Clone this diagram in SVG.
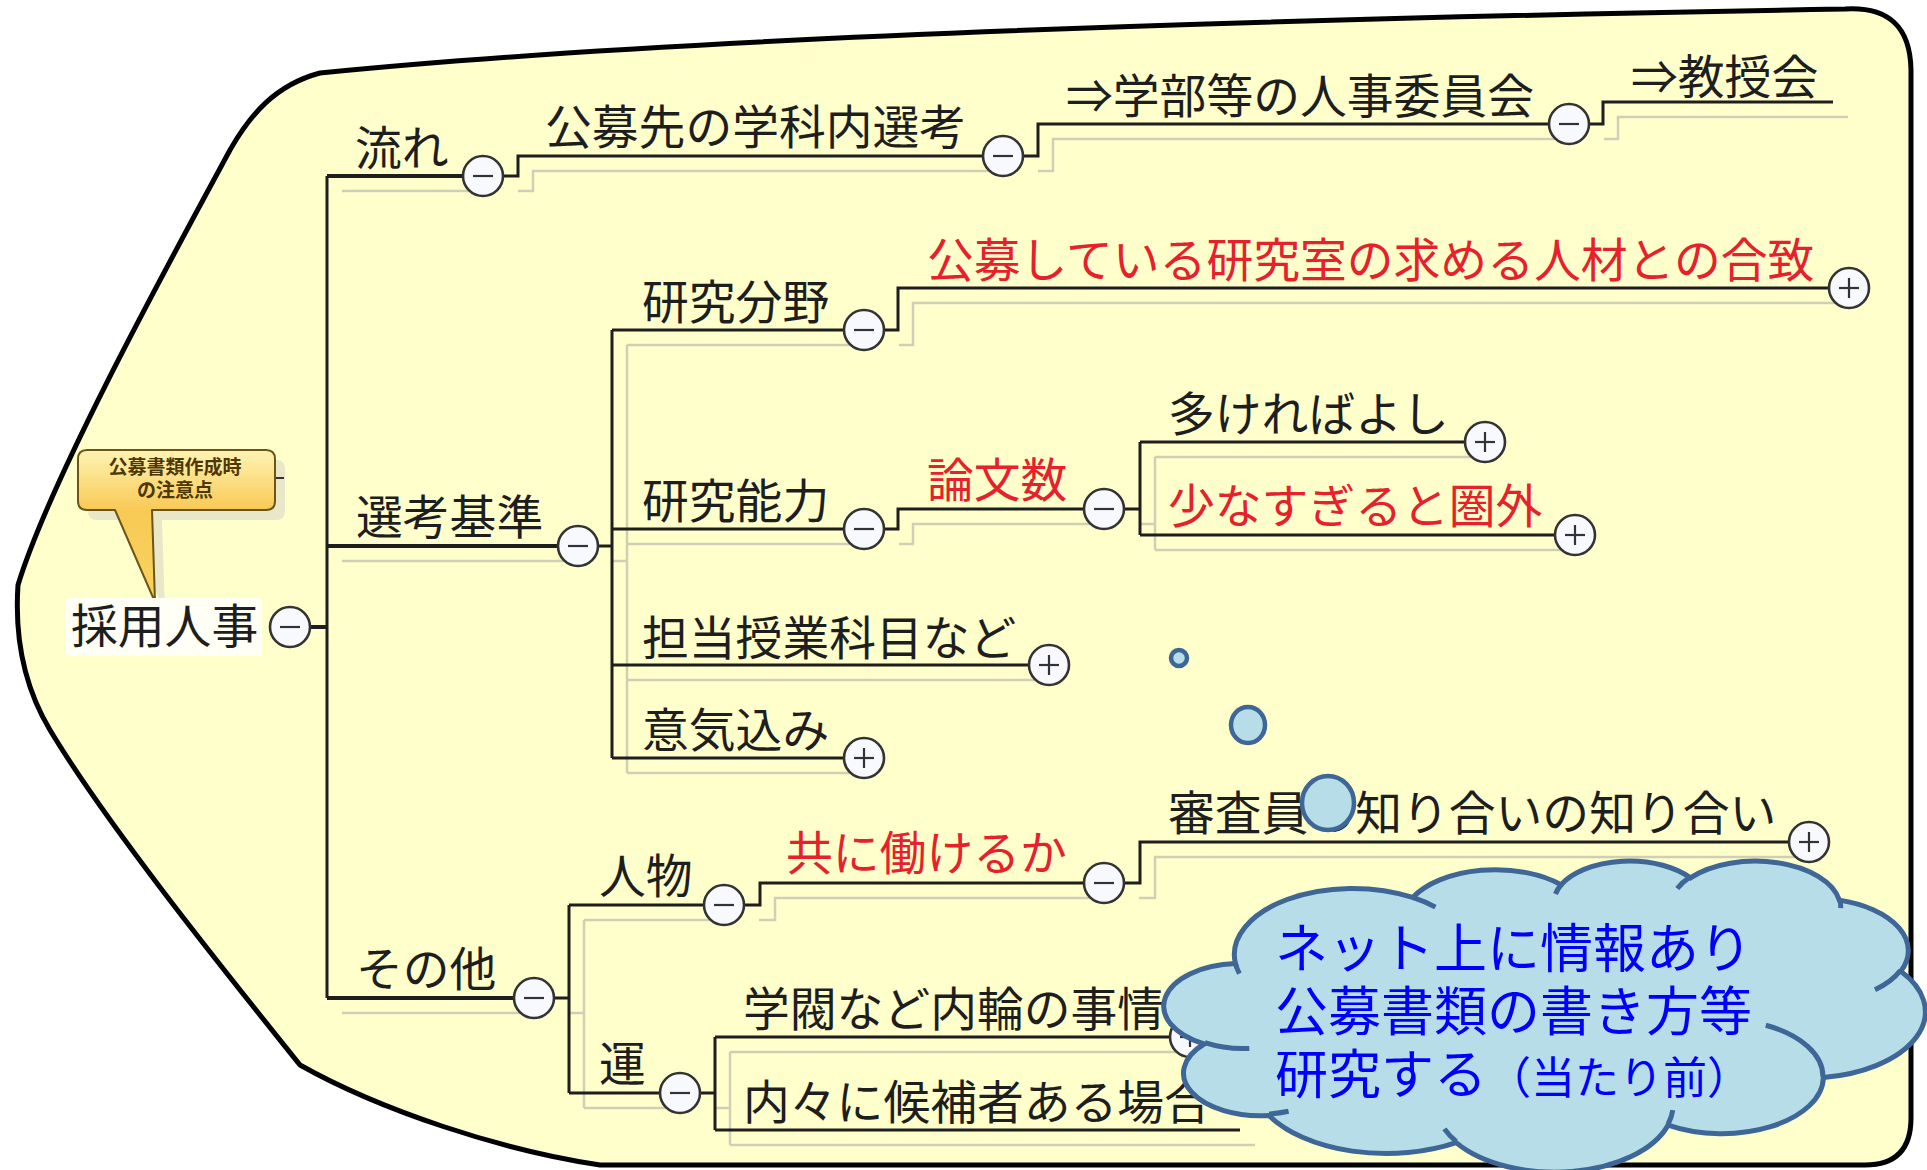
<svg xmlns="http://www.w3.org/2000/svg" width="1927" height="1170" viewBox="0 0 1927 1170">
<defs>
<style>
.t{font-family:"Noto Sans CJK JP","Noto Sans",sans-serif;font-size:46.8px;fill:#1e1e1e}
.r{fill:#e6212b}
.ln{fill:none;stroke:#1e1e1e;stroke-width:3;stroke-linejoin:miter}
.l1{stroke-width:4}
.sh{fill:none;stroke:#cfcfb6;stroke-width:2.5}
.btn{fill:#f8f8ff;stroke:#333;stroke-width:2.6}
.sg{stroke:#333;stroke-width:2.2}
.ct{font-family:"Liberation Sans","Noto Sans CJK JP",sans-serif;fill:#0000ff}
.bub{fill:#b7dde8;stroke:#3e6696;stroke-width:4.5}
</style>
<linearGradient id="cg" x1="0" y1="450" x2="0" y2="600" gradientUnits="userSpaceOnUse">
<stop offset="0" stop-color="#fff4b4"/>
<stop offset="0.4" stop-color="#f8c955"/>
<stop offset="1" stop-color="#f7d35e"/>
</linearGradient>
<g id="minus"><circle class="btn" cx="0" cy="0" r="20"/><line class="sg" x1="-10" y1="0" x2="10" y2="0"/></g>
<g id="plus"><circle class="btn" cx="0" cy="0" r="20"/><line class="sg" x1="-10" y1="0" x2="10" y2="0"/><line class="sg" x1="0" y1="-10" x2="0" y2="10"/></g>
</defs>

<path id="frame" d="M 320,73 C 500,55 900,25 1845,9 Q 1910,5 1911,70 L 1911,1118 Q 1911,1165 1865,1165 L 600,1165 C 500,1150 380,1110 300,1065 C 240,990 110,830 50,730 C 20,680 15,630 18,585 C 50,480 165,270 230,150 C 250,115 275,85 320,73 Z" fill="#ffffcc" stroke="#000" stroke-width="5" stroke-linejoin="round"/>

<g id="callout">
<path d="M 97,460 H 276 Q 285,460 285,469 V 511 Q 285,520 276,520 H 162 L 165,612 L 125,520 H 97 Q 88,520 88,511 V 469 Q 88,460 97,460 Z" fill="#deddc4" opacity="0.7"/>
<line x1="275" y1="478" x2="284" y2="478" stroke="#333" stroke-width="2"/>
<path d="M 87,450 H 266 Q 275,450 275,459 V 501 Q 275,510 266,510 H 152 L 155,602 L 115,510 H 87 Q 78,510 78,501 V 459 Q 78,450 87,450 Z" fill="url(#cg)" stroke="#6e5418" stroke-width="2" stroke-linejoin="round"/>
<text font-family="Liberation Sans, Noto Sans CJK JP, sans-serif" font-size="19" font-weight="bold" fill="#4d3800" text-anchor="middle"><tspan x="175" y="474">公募書類作成時</tspan><tspan x="175" y="497">の注意点</tspan></text>
</g>

<g id="connectors">
<g class="sh" transform="translate(15,15)">
<path d="M327,176 H463 M327,546 H558 M327,998 H514 M503,176 H518 V156 H983 M1023,156 H1038 V124 H1549 M1589,124 H1603 V102 H1833 M598,546 H612 M612,330 V758 M612,330 H844 M884,330 H898 V288 H1829 M612,529 H844 M884,529 H898 V509 H1084 M1124,509 H1140 M1140,442 V535 M1140,442 H1465 M1140,535 H1555 M612,665 H1029 M612,758 H844 M554,998 H569 M569,905 V1093 M569,905 H704 M744,905 H760 V883 H1084 M1124,883 H1140 V842 H1789 M569,1093 H660 M700,1093 H715 M715,1037 V1130 M715,1037 H1170 M715,1130 H1240"/>
</g>
<path class="ln l1" d="M309,627 H327"/>
<path class="ln" d="M327,176 V998"/>
<path class="ln l1" d="M327,176 H463 M327,546 H558 M327,998 H514"/>
<path class="ln" d="M503,176 H518 V156 H983 M1023,156 H1038 V124 H1549 M1589,124 H1603 V102 H1833"/>
<path class="ln" d="M598,546 H612 M612,330 V758 M612,330 H844 M884,330 H898 V288 H1829 M612,529 H844 M884,529 H898 V509 H1084 M1124,509 H1140 M1140,442 V535 M1140,442 H1465 M1140,535 H1555 M612,665 H1029 M612,758 H844"/>
<path class="ln" d="M554,998 H569 M569,905 V1093 M569,905 H704 M744,905 H760 V883 H1084 M1124,883 H1140 V842 H1789 M569,1093 H660 M700,1093 H715 M715,1037 V1130 M715,1037 H1170 M715,1130 H1240"/>
</g>

<g id="n-root"><rect x="66" y="598" width="196" height="58" fill="#fffff6"/><text class="t" x="71" y="643">採用人事</text><use href="#minus" x="290" y="627"/></g>
<g id="n-flow"><text class="t" x="355" y="165">流れ</text><use href="#minus" x="483" y="176"/></g>
<g id="n-dept"><text class="t" x="545" y="144">公募先の学科内選考</text><use href="#minus" x="1003" y="156"/></g>
<g id="n-fac"><text class="t" x="1066" y="113">⇒学部等の人事委員会</text><use href="#minus" x="1569" y="124"/></g>
<g id="n-prof"><text class="t" x="1631" y="94">⇒教授会</text></g>
<g id="n-crit"><text class="t" x="356" y="534">選考基準</text><use href="#minus" x="578" y="546"/></g>
<g id="n-field"><text class="t" x="642" y="319">研究分野</text><use href="#minus" x="864" y="330"/></g>
<g id="n-match"><text class="t r" x="927" y="277">公募している研究室の求める人材との合致</text><use href="#plus" x="1849" y="288"/></g>
<g id="n-ability"><text class="t" x="642" y="518">研究能力</text><use href="#minus" x="864" y="529"/></g>
<g id="n-papers"><text class="t r" x="927" y="497">論文数</text><use href="#minus" x="1104" y="509"/></g>
<g id="n-many"><text class="t" x="1168" y="431">多ければよし</text><use href="#plus" x="1485" y="442"/></g>
<g id="n-few"><text class="t r" x="1168" y="523">少なすぎると圏外</text><use href="#plus" x="1575" y="535"/></g>
<g id="n-course"><text class="t" x="642" y="655">担当授業科目など</text><use href="#plus" x="1049" y="665"/></g>
<g id="n-will"><text class="t" x="642" y="747">意気込み</text><use href="#plus" x="864" y="758"/></g>
<g id="n-other"><text class="t" x="356" y="986">その他</text><use href="#minus" x="534" y="998"/></g>
<g id="n-person"><text class="t" x="599" y="893">人物</text><use href="#minus" x="724" y="905"/></g>
<g id="n-work"><text class="t r" x="786" y="870">共に働けるか</text><use href="#minus" x="1104" y="883"/></g>
<g id="n-ref"><text class="t" x="1168" y="830">審査員の知り合いの知り合い</text><use href="#plus" x="1809" y="842"/></g>
<g id="n-luck"><text class="t" x="599" y="1081">運</text><use href="#minus" x="680" y="1093"/></g>
<g id="n-clique"><text class="t" x="743" y="1026">学閥など内輪の事情</text><use href="#plus" x="1190" y="1037"/></g>
<g id="n-inside"><text class="t" x="743" y="1119">内々に候補者ある場合</text></g>

<g id="bubbles">
<circle class="bub" cx="1179" cy="658" r="8"/>
<ellipse class="bub" cx="1248" cy="725" rx="17" ry="18"/>
<ellipse class="bub" cx="1328" cy="803" rx="26" ry="27"/>
</g>

<g id="cloud">
<g transform="translate(1167,860) scale(0.017546,0.0072)">
<path d="M 3900 14370 A 6753 9190 0 0 1 14006 5203 A 5333 7267 0 0 1 22457 3432 A 4365 5945 0 0 1 29833 2479 A 4857 6595 0 0 1 38319 5574 A 5333 7273 0 0 1 41819 15458 A 6775 9220 0 0 1 37407 30203 A 5785 7867 0 0 1 28558 36814 A 6752 9215 0 0 1 16483 39265 A 7720 10543 0 0 1 5807 35475 A 4360 5918 0 0 1 2117 25553 A 4345 5945 0 0 1 3900 14370 Z" fill="#b7dde8" stroke="#3e6696" stroke-width="5" vector-effect="non-scaling-stroke"/>
<path d="M 4693 26177 A 4345 5945 0 0 1 2159 25380 M 6928 34899 A 4360 5918 0 0 1 5819 35281 M 16478 39090 A 6752 9215 0 0 1 15810 37349 M 28827 34751 A 6752 9215 0 0 1 28560 36660 M 34129 22954 A 5785 7867 0 0 1 37380 30090 M 41798 15354 A 5333 7273 0 0 1 40349 18031 M 38324 5426 A 4857 6595 0 0 1 38400 6690 M 29078 3952 A 4857 6595 0 0 1 29819 2341 M 22141 4720 A 4365 5945 0 0 1 22500 3330 M 14000 5192 A 6753 9190 0 0 1 15299 6540 M 4127 15789 A 6753 9190 0 0 1 3900 14370" fill="none" stroke="#3e6696" stroke-width="5" vector-effect="non-scaling-stroke"/>
</g>
<text class="ct" font-size="53"><tspan x="1275" y="968">ネット上に情報あり</tspan><tspan x="1275" y="1031">公募書類の書き方等</tspan><tspan x="1275" y="1094">研究する</tspan><tspan font-size="44">（当たり前）</tspan></text>
</g>
</svg>
